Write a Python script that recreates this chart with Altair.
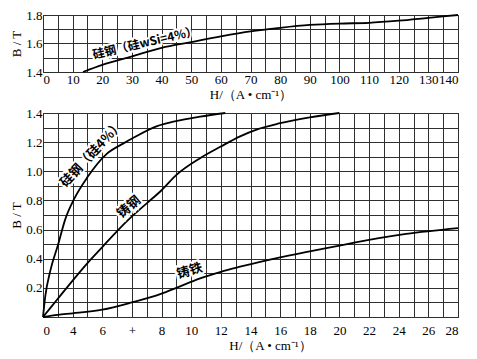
import altair as alt
import pandas as pd

# ---------------- data ----------------
# top panel: silicon steel (Si 4%), high-field part
top_H = [13.5, 20, 30, 40, 50, 60, 70, 80, 90, 100, 110, 120, 130, 140]
top_B = [1.40, 1.45, 1.51, 1.57, 1.61, 1.65, 1.685, 1.71, 1.73, 1.74, 1.745, 1.76, 1.78, 1.80]

# bottom panel curves
si_H = [0, 0.15, 0.5, 1.0, 1.5, 2.1, 3.0, 4.3, 5.4, 6.1, 7.7, 8.8, 10.6, 12.3]
si_B = [0, 0.14, 0.32, 0.49, 0.67, 0.81, 0.96, 1.12, 1.19, 1.23, 1.31, 1.34, 1.375, 1.40]

steel_H = [0, 1, 2, 3, 4, 5, 6, 7, 8, 9, 10.6, 12, 13.3, 14.5, 16, 18, 20]
steel_B = [0, 0.125, 0.25, 0.37, 0.48, 0.59, 0.69, 0.78, 0.87, 0.975, 1.09, 1.17, 1.24, 1.29, 1.33, 1.37, 1.40]

iron_H = [0, 1, 2, 4, 6, 8, 9, 10.6, 12, 13.3, 16, 18, 20, 21, 24.5, 28]
iron_B = [0, 0.015, 0.025, 0.05, 0.10, 0.16, 0.20, 0.265, 0.31, 0.345, 0.41, 0.45, 0.49, 0.51, 0.57, 0.61]

# curve labels
top_label = "硅钢（硅wSi=4%）"
top_label_H = [34.4]
top_label_B = [1.604]

bot_labels = ["硅钢（硅4%）", "铸钢", "铸铁"]
bot_label_H = [3.3, 5.8, 9.9]
bot_label_B = [1.12, 0.755, 0.316]
bot_label_angle = [313, 320, 344]

# tick labels
top_x_ticks = list(range(0, 141, 5))
top_y_ticks = [1.4, 1.5, 1.6, 1.7, 1.8]
bot_x_ticks = list(range(0, 29))
bot_y_ticks = [round(0.1 * k, 1) for k in range(15)]
bot_x_label_pos = [0, 2, 4, 6, 8, 10, 12, 14, 16, 18, 20, 22, 24, 26, 28]
bot_x_label_txt = ["0", "4", "6", "+", "8", "10", "12", "14", "16", "18", "20", "22", "24", "26", "28"]

x_title = "H/（A • cm⁻¹）"
y_title = "B / T"

# ---------------- styling ----------------
SERIF = "Liberation Serif"
CJK = "Noto Sans CJK SC"
GRID = "#2e2e2e"
AX = dict(labelFont=SERIF, titleFont=SERIF, labelFontSize=13, titleFontSize=13,
          titleFontWeight="normal", labelColor="black", titleColor="black",
          domain=False, ticks=False, grid=True, gridColor=GRID, gridOpacity=1, gridWidth=1)
AXY = dict(labelPadding=1, titlePadding=2, **AX)


def curve_df(H, B):
    return pd.DataFrame({"H": H, "B": B})


bot_label_expr = ""
for p, t in zip(bot_x_label_pos, bot_x_label_txt):
    bot_label_expr += f"datum.value == {p} ? '{t}' : "
bot_label_expr += "''"


def line(df, xscale, yscale, xaxis, yaxis):
    return alt.Chart(df).mark_line(color="black", strokeWidth=1.8, interpolate="monotone").encode(
        x=alt.X("H:Q", scale=xscale, axis=xaxis),
        y=alt.Y("B:Q", scale=yscale, axis=yaxis),
    )


def label(text, H, B, angle, xscale, yscale, xaxis, yaxis, size=13):
    d = pd.DataFrame({"H": H, "B": B})
    base = alt.Chart(d).encode(
        x=alt.X("H:Q", scale=xscale, axis=xaxis),
        y=alt.Y("B:Q", scale=yscale, axis=yaxis),
    )
    halo = base.mark_text(text=text, angle=angle, font=CJK, fontSize=size, fontWeight="bold",
                          color="white", stroke="white", strokeWidth=4)
    fg = base.mark_text(text=text, angle=angle, font=CJK, fontSize=size, fontWeight="bold", color="black")
    return halo + fg


# ---- top panel ----
top_xs = alt.Scale(domain=[0, 140], nice=False, zero=False)
top_ys = alt.Scale(domain=[1.4, 1.8], nice=False, zero=False)
top_xaxis = alt.Axis(values=top_x_ticks, title=x_title, labelPadding=1, titlePadding=2,
                     labelExpr="datum.value % 10 == 0 ? datum.label : ''", **AX)
top_yaxis = alt.Axis(values=top_y_ticks, title=y_title,
                     labelExpr="round(datum.value * 10) % 2 == 0 ? format(datum.value, '.1f') : ''", **AXY)

top = alt.layer(
    line(curve_df(top_H, top_B), top_xs, top_ys, top_xaxis, top_yaxis),
    label(top_label, top_label_H, top_label_B, 347, top_xs, top_ys, top_xaxis, top_yaxis, size=12),
).properties(width=415, height=57)

# ---- bottom panel ----
bot_xs = alt.Scale(domain=[0, 28], nice=False, zero=False)
bot_ys = alt.Scale(domain=[0, 1.4], nice=False, zero=False)
bot_xaxis = alt.Axis(values=bot_x_ticks, title=x_title, labelExpr=bot_label_expr,
                     labelPadding=7, titlePadding=2,
                     titleX=227, titleAlign="center", **AX)
bot_yaxis = alt.Axis(values=bot_y_ticks, title=y_title,
                     labelExpr="round(datum.value * 10) % 2 == 0 && datum.value > 0 ? format(datum.value, '.1f') : ''",
                     **AXY)

bot_layers = [
    line(curve_df(si_H, si_B), bot_xs, bot_ys, bot_xaxis, bot_yaxis),
    line(curve_df(steel_H, steel_B), bot_xs, bot_ys, bot_xaxis, bot_yaxis),
    line(curve_df(iron_H, iron_B), bot_xs, bot_ys, bot_xaxis, bot_yaxis),
]
for t, h, b, a in zip(bot_labels, bot_label_H, bot_label_B, bot_label_angle):
    bot_layers.append(label(t, [h], [b], a, bot_xs, bot_ys, bot_xaxis, bot_yaxis))

bottom = alt.layer(*bot_layers).properties(width=415, height=204)

chart = alt.vconcat(top, bottom, spacing=4).properties(
    padding={"left": 2, "top": 0, "right": 5, "bottom": 0}
).configure(
    font=SERIF
).configure_view(
    stroke=GRID, strokeWidth=1
)

chart.save("out.html", embed_options={"renderer": "svg", "actions": False})
